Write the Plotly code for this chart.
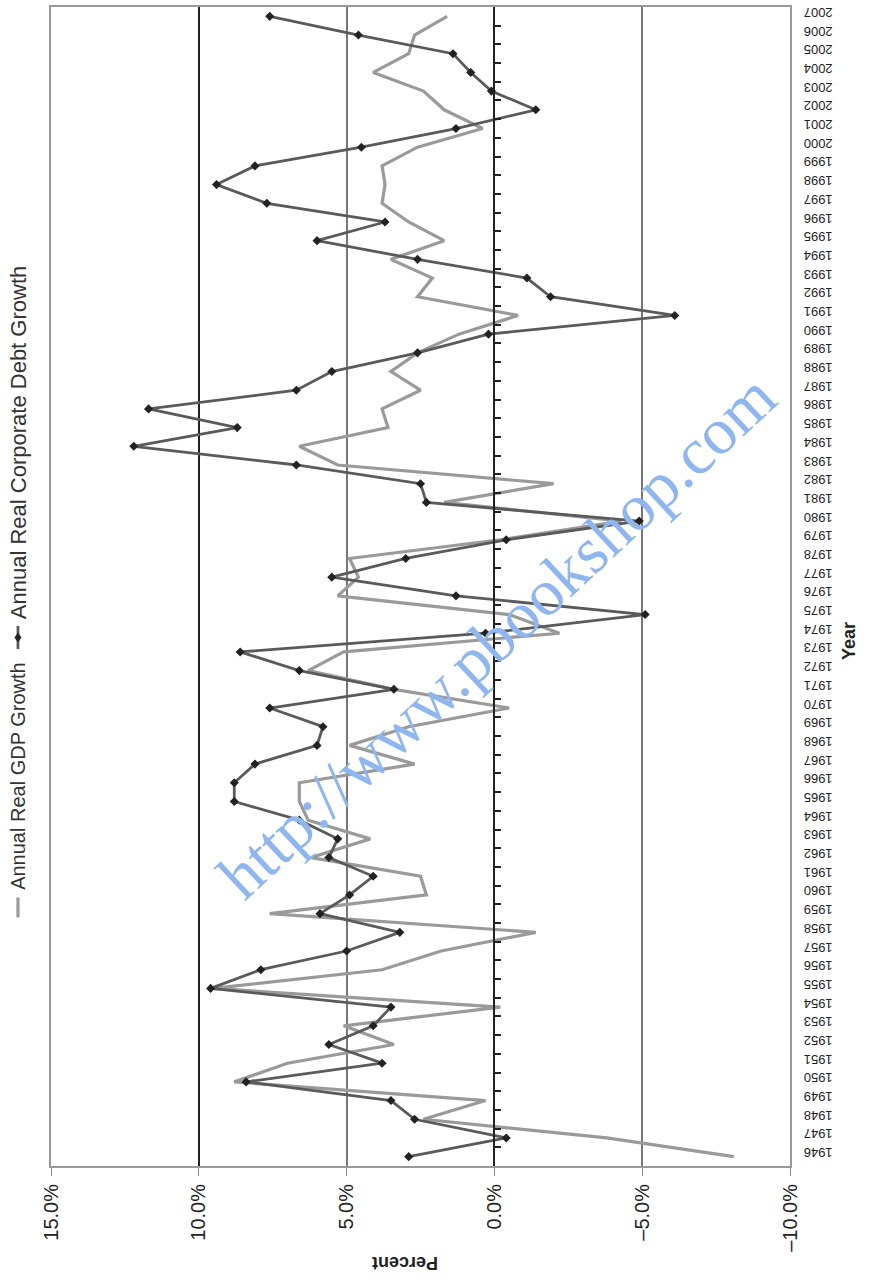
import plotly.graph_objects as go

years = list(range(1946, 2008))

gdp_growth = [
    -8.1, -3.8, 2.4, 0.3, 8.8, 7.0, 3.4, 5.1, -0.2, 9.5,
    3.8, 1.8, -1.4, 7.6, 2.3, 2.5, 6.2, 4.2, 6.3, 6.6,
    6.6, 2.7, 4.9, 2.9, -0.5, 3.4, 6.3, 5.1, -2.2, -0.5,
    5.3, 4.6, 4.9, -0.2, -4.3, 1.7, -2.0, 5.3, 6.6, 3.6,
    3.8, 2.5, 3.5, 2.6, 1.2, -0.8, 2.6, 2.1, 3.5, 1.7,
    2.9, 3.8, 3.7, 3.8, 2.6, 0.4, 1.7, 2.4, 4.1, 2.9,
    2.7, 1.6,
]

debt_growth = [
    2.9, -0.4, 2.7, 3.5, 8.4, 3.8, 5.6, 4.1, 3.5, 9.6,
    7.9, 5.0, 3.2, 5.9, 4.9, 4.1, 5.6, 5.3, 6.6, 8.8,
    8.8, 8.1, 6.0, 5.8, 7.6, 3.4, 6.6, 8.6, 0.3, -5.1,
    1.3, 5.5, 3.0, -0.4, -4.9, 2.3, 2.5, 6.7, 12.2, 8.7,
    11.7, 6.7, 5.5, 2.6, 0.2, -6.1, -1.9, -1.1, 2.6, 6.0,
    3.7, 7.7, 9.4, 8.1, 4.5, 1.3, -1.4, 0.1, 0.8, 1.4,
    4.6, 7.6,
]

pct_ticks = [15, 10, 5, 0, -5, -10]
pct_labels = ["15.0%", "10.0%", "5.0%", "0.0%", "\u20135.0%", "\u201310.0%"]

GDP_COLOR = "#9a9a9a"
DEBT_COLOR = "#5a5a5a"
FONT = "Liberation Sans, Arial, sans-serif"

fig = go.Figure()

fig.add_trace(go.Scatter(
    x=gdp_growth, y=years, mode="lines",
    line=dict(color=GDP_COLOR, width=3.2),
    name="Annual Real GDP Growth", showlegend=False,
))
fig.add_trace(go.Scatter(
    x=debt_growth, y=years, mode="lines+markers",
    line=dict(color=DEBT_COLOR, width=2.8),
    marker=dict(symbol="diamond", size=7, color="#222222"),
    name="Annual Real Corporate Debt Growth", showlegend=False,
))

fig.update_layout(
    width=869, height=1282,
    margin=dict(l=51, r=79, t=5, b=116),
    plot_bgcolor="white", paper_bgcolor="white",
    font=dict(family=FONT, color="#222222"),
    xaxis=dict(
        range=[15, -10], tickvals=pct_ticks, ticktext=pct_labels,
        tickangle=-90, ticks="outside", ticklen=8, tickcolor="#888888",
        tickfont=dict(size=20, color="#222222"),
        showgrid=True, gridcolor="#777777", gridwidth=1.5,
        zeroline=False, showline=True, linecolor="#999999", linewidth=2,
        mirror=True,
    ),
    # dark gridline at 10%
    xaxis2=dict(
        range=[15, -10], overlaying="x", tickvals=[10],
        showticklabels=False, ticks="", showgrid=True,
        gridcolor="#222222", gridwidth=2, zeroline=False,
    ),
    yaxis=dict(
        range=[1945.5, 2007.5], side="right",
        tickvals=years, ticktext=[str(y) for y in years],
        tickangle=180, ticks="", ticklabelstandoff=38,
        tickfont=dict(size=13, color="#222222"),
        showgrid=False, zeroline=False, showline=True,
        linecolor="#999999", linewidth=2, mirror=True,
    ),
    # category axis crossing at 0% with boundary ticks
    yaxis2=dict(
        range=[1945.5, 2007.5], overlaying="y", anchor="free",
        position=0.6, side="right",
        tickvals=[y + 0.5 for y in years[:-1]],
        ticks="outside", ticklen=6, tickcolor="#222222", tickwidth=1.5,
        showticklabels=False, showgrid=False, zeroline=False,
        showline=True, linecolor="#222222", linewidth=2,
    ),
)

fig.add_trace(go.Scatter(x=[None], y=[None], xaxis="x2", yaxis="y2",
                         showlegend=False, hoverinfo="skip"))

def note(text, x, y, angle, size, color="#222222", family=FONT,
         yanchor="middle"):
    return dict(text=text, x=x, y=y, xref="paper", yref="paper",
                xanchor="center", yanchor=yanchor, showarrow=False,
                textangle=angle, font=dict(size=size, color=color, family=family))

annotations = [
    note("<b>Percent</b>", 0.479, -0.0835, 180, 18),
    note("<b>Year</b>", 1.08, 0.453, -90, 18),
    note("Annual Real GDP Growth", -0.0447, 0.2365, -90, 20, "#333333",
         yanchor="bottom"),
    note("Annual Real Corporate Debt Growth", -0.0447, 0.4705, -90, 22,
         "#333333", yanchor="bottom"),
    note("http://www.pbookshop.com", 0.6035, 0.458, -43, 66, "#8fb6ee",
         "Liberation Serif, Times New Roman, serif"),
]
fig.update_layout(annotations=annotations)

# legend keys beside the rotated legend labels
key_x = -0.0447
fig.update_layout(shapes=[
    dict(type="line", xref="paper", yref="paper", x0=key_x, x1=key_x,
         y0=0.2145, y1=0.2317, line=dict(color=GDP_COLOR, width=3.2)),
    dict(type="line", xref="paper", yref="paper", x0=key_x, x1=key_x,
         y0=0.446, y1=0.466, line=dict(color=DEBT_COLOR, width=2.8)),
    dict(type="path", xref="paper", yref="paper", xsizemode="pixel",
         ysizemode="pixel", xanchor=key_x, yanchor=0.456,
         path="M0,5 L3.5,0 L0,-5 L-3.5,0 Z",
         fillcolor="#222222", line=dict(width=0)),
])

fig.write_html("out.html")
